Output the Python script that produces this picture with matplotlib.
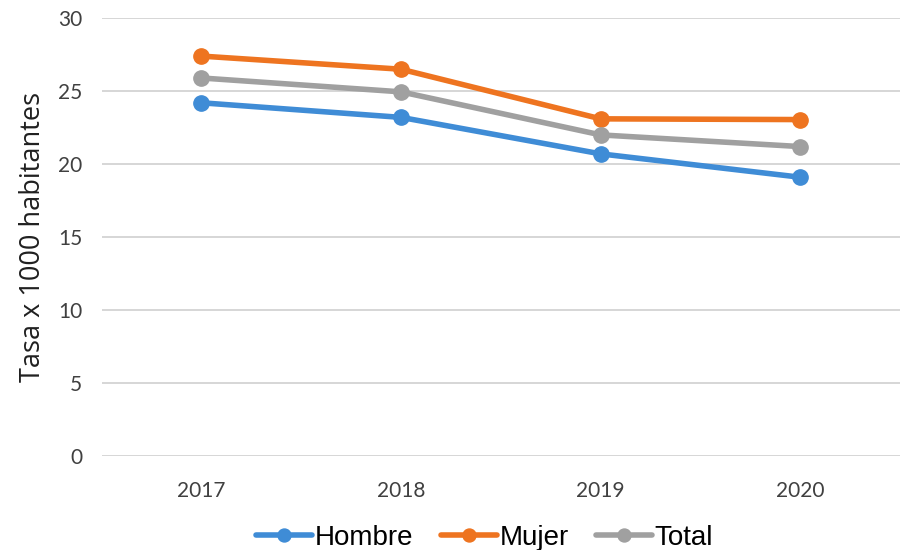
import numpy as np
import matplotlib
matplotlib.use("Agg")
import matplotlib.pyplot as plt

years = ["2017", "2018", "2019", "2020"]
hombre = [24.2, 23.2, 20.7, 19.1]
mujer = [27.4, 26.5, 23.1, 23.05]
total = [25.9, 24.95, 22.0, 21.2]

series = [("Hombre", hombre, "#3F8CD6"),
          ("Mujer", mujer, "#EE7420"),
          ("Total", total, "#A0A0A0")]

fig = plt.figure(figsize=(9, 5.5), dpi=100)
ax = fig.add_axes([0.113, 0.171, 0.887, 0.796])

x = np.arange(len(years))
for name, vals, col in series:
    ax.plot(x, vals, color=col, lw=4, marker="o", ms=11, label=name,
            solid_capstyle="round")

ax.set_xlim(-0.5, len(years) - 0.5)
ax.set_ylim(0, 30)
ax.set_yticks(np.arange(0, 31, 5))
ax.set_xticks(x)
ax.set_xticklabels(years)
ax.grid(axis="y", color="#D0D0D0", lw=1.2)
ax.set_axisbelow(True)
for s in ax.spines.values():
    s.set_visible(False)
ax.tick_params(length=0, labelsize=15, colors="#404040")
for lab in ax.get_xticklabels() + ax.get_yticklabels():
    lab.set_family("Lato")
ax.tick_params(axis="x", pad=18)
ax.tick_params(axis="y", pad=14)

ax.set_ylabel("Tasa x 1000 habitantes", fontsize=19.5, family="Open Sans",
              color="#202020", labelpad=8)

leg = ax.legend(loc="upper center", bbox_to_anchor=(0.48, -0.1), ncol=3,
                frameon=False, prop={"family": "Liberation Sans", "size": 20},
                handlelength=2.0, handletextpad=0.1, columnspacing=1.0,
                markerscale=0.85)

fig.savefig("out.png", dpi=100)
